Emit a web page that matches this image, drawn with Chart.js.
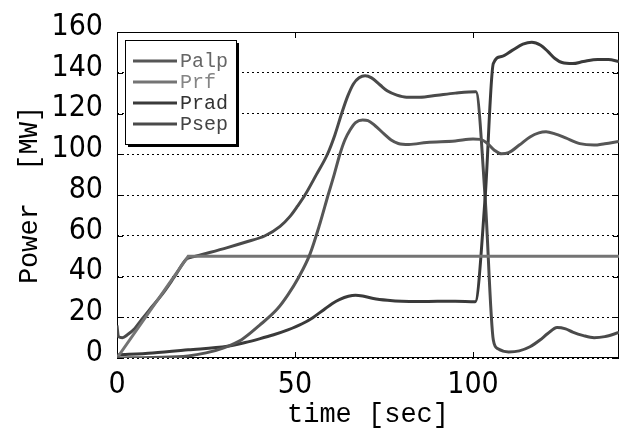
<!DOCTYPE html>
<html>
<head>
<meta charset="utf-8">
<script src="https://cdn.jsdelivr.net/npm/chart.js@4.4.1/dist/chart.umd.min.js"></script>
<style>
html,body{margin:0;padding:0;background:#fff;}
#wrap{width:624px;height:432px;}
</style>
</head>
<body>
<div id="wrap"><canvas id="c" width="624" height="432"></canvas></div>
<script>
// ---- data ----
const seriesNames = ['Palp', 'Prf', 'Prad', 'Psep'];
const yTickValues = [0, 20, 40, 60, 80, 100, 120, 140, 160];
const xTickValues = [0, 50, 100];

const palpT = [0, 10, 20, 25, 30, 35, 40, 45, 48, 51, 54.2, 57, 59.3, 61, 62.6, 64, 65.5, 67, 69, 70.5, 72.5, 75, 77, 79, 82, 87, 95, 100, 102, 104, 106, 108, 110, 113, 116, 118.5, 120.5, 123, 126, 130, 134, 137, 141];
const palpV = [0, 0.3, 1, 2.5, 5, 9, 16, 24, 31, 39.5, 51, 66, 80, 90, 100, 107, 112, 115.5, 116.8, 116.5, 114, 110, 107, 105.3, 104.8, 105.8, 106.5, 107.5, 107.3, 105.4, 102, 100.2, 100.8, 104.5, 108.5, 110.5, 111, 110, 108, 105.2, 104.5, 105.2, 106.3];

const prfT = [0, 20, 141];
const prfV = [0, 50, 50];

const pradT = [0, 10, 20, 31, 36, 40, 44, 48, 52, 55, 58, 60.5, 62.6, 65, 67, 69, 72, 76, 80, 85, 90, 95, 100.6, 103.4, 105.7, 108, 111, 114, 116.5, 119, 121, 123, 125, 128, 131, 135, 138, 141];
const pradV = [1.5, 2.5, 4, 5.8, 7.6, 9.4, 11.4, 13.8, 16.8, 19.8, 23.6, 26.8, 28.8, 30.3, 30.8, 30.4, 29.2, 28.3, 27.8, 27.7, 27.8, 27.8, 27.6, 78.7, 144.5, 148, 151, 154, 155, 153.5, 150.5, 147, 145, 144.5, 145.5, 146.5, 146.5, 145.5];

const psepT = [0, 0.4, 1.5, 3, 5, 7, 10, 13, 16, 19.5, 21, 26, 31, 36, 41.6, 45.8, 48.6, 50.7, 52.8, 56, 59.1, 61.2, 63.1, 64.8, 66.4, 68, 69.7, 71.5, 73.9, 76, 78.6, 81.3, 85, 90, 95, 100.8, 103.4, 105.7, 107, 110, 113, 116, 118.8, 121, 123.6, 126, 128, 131, 134, 137, 141];
const psepV = [16, 10.5, 10, 11.5, 14.5, 19, 25.5, 32, 39.5, 48.5, 49.5, 51.8, 54.2, 56.8, 60, 64.6, 69.5, 74.5, 80, 90, 100, 109.5, 120, 128.5, 134.5, 137.5, 138.5, 137.5, 134, 131, 129, 128, 128, 129, 130, 130.7, 78.7, 8.8, 4.5, 3, 3.5, 5.5, 8.8, 12, 15, 14.3, 12.7, 11, 10, 10.5, 12.5];

const lineColors = ['#565656', '#747474', '#3a3a3a', '#4a4a4a'];
const textColors = ['#666666', '#858585', '#333333', '#444444'];
const straightSeries = [false, true, false, false];

const toPts = (t, v) => t.map((x, i) => ({x: x, y: v[i]}));
const allT = [palpT, prfT, pradT, psepT];
const allV = [palpV, prfV, pradV, psepV];

const TICK_FONT = {family: "'DejaVu Sans Condensed', 'Liberation Sans Narrow', sans-serif", size: 30};
const TITLE_FONT = {family: "'Liberation Mono', 'DejaVu Sans Mono', monospace", size: 27};

const framePlugin = {
  id: 'frame',
  beforeDatasetsDraw(chart) {
    const {ctx, chartArea: a, scales: {x, y}} = chart;
    ctx.save();
    ctx.strokeStyle = '#000';
    ctx.lineWidth = 1;
    ctx.setLineDash([]);
    const L = 6;
    ctx.beginPath();
    x.ticks.forEach(t => {
      const px = Math.round(x.getPixelForValue(t.value)) + 0.5;
      ctx.moveTo(px, a.bottom); ctx.lineTo(px, a.bottom - L);
      ctx.moveTo(px, a.top); ctx.lineTo(px, a.top + L);
    });
    y.ticks.forEach(t => {
      const py = Math.round(y.getPixelForValue(t.value)) + 0.5;
      ctx.moveTo(a.left, py); ctx.lineTo(a.left + L, py);
      ctx.moveTo(a.right, py); ctx.lineTo(a.right - L, py);
    });
    ctx.stroke();
    ctx.strokeRect(Math.round(a.left) + 0.5, Math.round(a.top) + 0.5,
                   Math.round(a.right - a.left) - 1, Math.round(a.bottom - a.top) - 1);
    ctx.restore();
  },
  afterDatasetsDraw(chart) {
    const {ctx} = chart;
    const lx = 125, ly = 40, lw = 111, lh = 104;
    ctx.save();
    ctx.setLineDash([]);
    ctx.fillStyle = '#000';
    ctx.fillRect(lx + 3, ly + 3, lw, lh);
    ctx.fillStyle = '#fff';
    ctx.fillRect(lx, ly, lw, lh);
    ctx.strokeStyle = '#000';
    ctx.lineWidth = 1;
    ctx.strokeRect(lx + 0.5, ly + 0.5, lw, lh);
    ctx.font = "20px 'Liberation Mono', 'DejaVu Sans Mono', monospace";
    ctx.textBaseline = 'middle';
    chart.data.datasets.forEach((ds, i) => {
      const yy = ly + 21 + i * 21;
      ctx.strokeStyle = ds.borderColor;
      ctx.lineWidth = 3;
      ctx.beginPath();
      ctx.moveTo(lx + 8, yy); ctx.lineTo(lx + 52, yy);
      ctx.stroke();
      ctx.fillStyle = textColors[i];
      ctx.fillText(ds.label, lx + 55, yy + 1);
    });
    ctx.restore();
  }
};

new Chart(document.getElementById('c'), {
  type: 'line',
  data: {
    datasets: seriesNames.map((name, i) => ({
      label: name,
      data: toPts(allT[i], allV[i]),
      borderColor: lineColors[i],
      backgroundColor: lineColors[i],
      borderWidth: 3,
      pointRadius: 0,
      fill: false,
      tension: straightSeries[i] ? 0 : 0.4,
      cubicInterpolationMode: straightSeries[i] ? 'default' : 'monotone'
    }))
  },
  options: {
    responsive: false,
    animation: false,
    layout: {padding: {left: 0, right: 5, top: 30, bottom: 0}},
    plugins: {legend: {display: false}, tooltip: {enabled: false}},
    scales: {
      x: {
        type: 'linear',
        min: 0, max: 141,
        afterFit: s => { s.height = 74; },
        afterBuildTicks: s => { s.ticks = xTickValues.map(v => ({value: v})); },
        grid: {display: false, drawTicks: false},
        border: {display: false},
        ticks: {font: TICK_FONT, color: '#000', padding: 9, maxRotation: 0, autoSkip: false, includeBounds: false},
        title: {display: true, text: 'time [sec]', font: TITLE_FONT, color: '#000', padding: {top: 0, bottom: 1}}
      },
      y: {
        min: 0, max: 160,
        afterFit: s => { s.width = 117; },
        afterBuildTicks: s => { s.ticks = yTickValues.map(v => ({value: v})); },
        grid: {color: '#000', lineWidth: 1, drawTicks: false},
        border: {display: false, dash: [2, 3]},
        ticks: {font: TICK_FONT, color: '#000', padding: 14, labelOffset: -5, autoSkip: false},
        title: {display: true, text: 'Power  [MW]', font: TITLE_FONT, color: '#000', padding: {top: 14, bottom: 0}}
      }
    }
  },
  plugins: [framePlugin]
});
</script>
</body>
</html>
